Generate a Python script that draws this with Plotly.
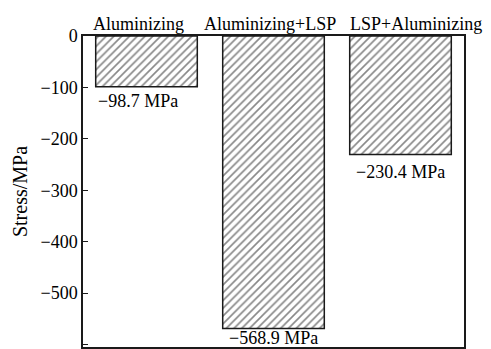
import plotly.graph_objects as go

# Residual stress for each surface treatment
treatments = ["Aluminizing", "Aluminizing+LSP", "LSP+Aluminizing"]
stress_mpa = [-98.7, -568.9, -230.4]
value_labels = ["\u221298.7 MPa", "\u2212568.9 MPa", "\u2212230.4 MPa"]
y_ticks = [0, -100, -200, -300, -400, -500, -600]

FONT = "Liberation Serif, Times New Roman, serif"
INK = "#1a1a1a"

fig = go.Figure(
    go.Bar(
        x=treatments,
        y=stress_mpa,
        width=0.8,
        marker=dict(
            color="white",
            line=dict(color=INK, width=1.5),
            pattern=dict(shape="/", size=5.5, solidity=0.3, fgcolor="#111111", bgcolor="white"),
        ),
        showlegend=False,
    )
)

# value labels under each bar end
value_offsets = [(-9, -14), (0, -10), (0, -18)]
for cat, val, txt, (dx, dy) in zip(treatments, stress_mpa, value_labels, value_offsets):
    fig.add_annotation(
        x=cat, y=val, text=txt, showarrow=False,
        yanchor="middle", xshift=dx, yshift=dy,
        font=dict(family=FONT, size=18, color="black"),
    )

# treatment names above the frame
name_shifts = [-8, -4, 15]
for cat, dx in zip(treatments, name_shifts):
    fig.add_annotation(
        x=cat, y=1, yref="paper", text=cat, showarrow=False,
        yanchor="bottom", xshift=dx, yshift=0,
        font=dict(family=FONT, size=18, color="black"),
    )

fig.update_layout(
    width=491, height=349,
    margin=dict(l=83, r=27, t=36, b=2),
    paper_bgcolor="white", plot_bgcolor="white",
    font=dict(family=FONT, size=18, color="black"),
    bargap=0.2,
)
fig.update_xaxes(
    type="category", range=[-0.5, len(treatments) - 0.5],
    side="top", showline=True, mirror=True, linecolor=INK, linewidth=1.5,
    ticks="", showgrid=False, showticklabels=False, automargin=False,
)
fig.update_yaxes(
    range=[-605, 0], tickvals=y_ticks, showline=True, mirror=True,
    linecolor=INK, linewidth=1.5, ticks="inside", ticklen=5, tickcolor=INK,
    showgrid=False, zeroline=False, automargin=False,
    title=dict(text="Stress/MPa", font=dict(size=20), standoff=7),
    tickfont=dict(size=18),
)

fig.write_html("out.html")
